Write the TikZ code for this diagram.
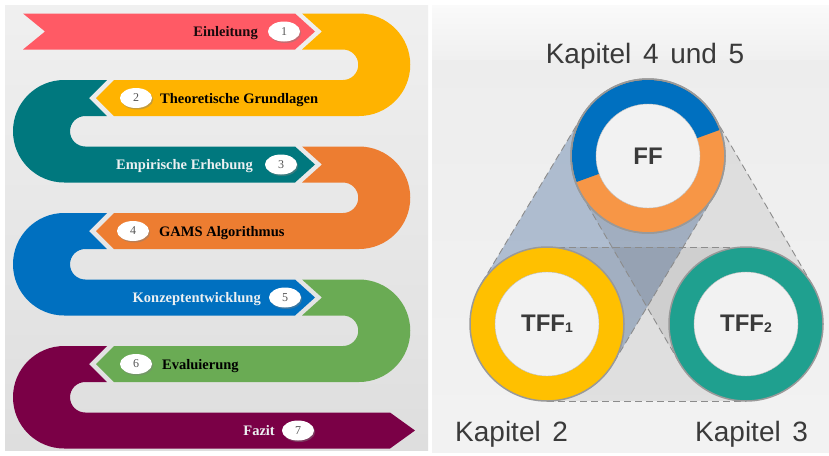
\documentclass[tikz,border=0pt]{standalone}
\usepackage{fontspec}
\setmainfont{Liberation Serif}
\setsansfont{Liberation Sans}
\newfontfamily\chapfont[WordSpace=1.5]{Liberation Sans}
\usetikzlibrary{shapes.geometric,shadows,calc}

\definecolor{bandred}{HTML}{FF5A65}
\definecolor{bandyellow}{HTML}{FFB300}
\definecolor{bandteal}{HTML}{00787E}
\definecolor{bandorange}{HTML}{ED7D31}
\definecolor{bandblue}{HTML}{0070C0}
\definecolor{bandgreen}{HTML}{6AAB54}
\definecolor{bandpurple}{HTML}{7A0046}
\definecolor{ringblue}{HTML}{0070C0}
\definecolor{ringorange}{HTML}{F79646}
\definecolor{ringyellow}{HTML}{FFC000}
\definecolor{ringteal}{HTML}{1FA08F}
\definecolor{beltblue}{HTML}{6080AA}
\definecolor{labelgray}{HTML}{3A3A3A}
\definecolor{numgray}{HTML}{555555}
\definecolor{darktext}{HTML}{1A0A0C}
\definecolor{lighttext}{HTML}{ECF0F2}

\begin{document}
\begin{tikzpicture}[x=1pt, y=-1pt,
    steptext/.style={font=\bfseries\fontsize{14.5}{16}\selectfont, inner sep=0pt},
    numoval/.style={ellipse, fill=white, minimum width=32pt, minimum height=20pt, inner sep=0pt,
        font=\fontsize{12}{12}\selectfont, text=numgray,
        drop shadow={shadow xshift=1.2pt, shadow yshift=-1.5pt, opacity=0.45}},
    ring/.style={circle, minimum size=154pt, inner sep=0pt, draw=black!40, line width=1.5pt},
    hole/.style={circle, minimum size=104pt, inner sep=0pt, fill=black!5, draw=black!25,
        font=\sffamily\bfseries\fontsize{24}{24}\selectfont, text=labelgray},
    chapter/.style={font=\chapfont\fontsize{28}{28}\selectfont, text=labelgray, inner sep=0pt},
    beltline/.style={draw=black!45, line width=0.9pt, dash pattern=on 7pt off 4pt}]

    % Hintergrund
    \fill[white] (0,0) rectangle (829,455);
    \useasboundingbox (0,0) rectangle (829,455);
    \shade[top color=black!6, bottom color=black!13] (5,5) rectangle (428,450);
    \shade[top color=black!2, bottom color=black!6] (432,5) rectangle (829,60);
    \shade[top color=black!7, bottom color=black!5] (432,60) rectangle (829,452);

    % Schlangenband links
    \fill[bandred] (23,13.5) -- (295,13.5) -- (315,31.5) -- (295,49.5) -- (23,49.5) -- (45,31.5) -- cycle;
    \fill[bandyellow] (302,13.5) -- (359,13.5) arc(270:450:51.25) -- (114,116) -- (96,98) -- (114,80)
        -- (343,80) arc(90:-90:15.25) -- (302,49.5) -- (322,31.5) -- cycle;
    \fill[bandteal] (107,80) -- (64.25,80) arc(270:90:51.25) -- (295,182.5) -- (315,164.5) -- (295,146.5)
        -- (85.25,146.5) arc(90:270:15.25) -- (107,116) -- (89,98) -- cycle;
    \fill[bandorange] (302,146.5) -- (359,146.5) arc(270:450:51.25) -- (114,249) -- (96,231) -- (114,213)
        -- (343,213) arc(90:-90:15.25) -- (302,182.5) -- (322,164.5) -- cycle;
    \fill[bandblue] (107,213) -- (64.25,213) arc(270:90:51.25) -- (295,315.5) -- (315,297.5) -- (295,279.5)
        -- (85.25,279.5) arc(90:270:15.25) -- (107,249) -- (89,231) -- cycle;
    \fill[bandgreen] (302,279.5) -- (359,279.5) arc(270:450:51.25) -- (114,382) -- (96,364) -- (114,346)
        -- (343,346) arc(90:-90:15.25) -- (302,315.5) -- (322,297.5) -- cycle;
    \fill[bandpurple] (107,346) -- (64.25,346) arc(270:90:51.25) -- (390,448.5) -- (415,430.5) -- (390,412.5)
        -- (85.25,412.5) arc(90:270:15.25) -- (107,382) -- (89,364) -- cycle;

    % Beschriftung der Schritte
    \node[steptext, text=darktext, anchor=base east] (einl) at (258,36.5) {Einleitung};
    \node[numoval] (n1) at (284,31.5) {1};
    \node[numoval] (n2) at (136,98) {2};
    \node[steptext, text=black, anchor=base west] (theo) at (160,103) {Theoretische Grundlagen};
    \node[steptext, text=lighttext, anchor=base east] (empi) at (253,169.5) {Empirische Erhebung};
    \node[numoval] (n3) at (281,164.5) {3};
    \node[numoval] (n4) at (133,231) {4};
    \node[steptext, text=black, anchor=base west] (gams) at (159,236) {GAMS Algorithmus};
    \node[steptext, text=lighttext, anchor=base east] (konz) at (261,302.5) {Konzeptentwicklung};
    \node[numoval] (n5) at (285,297.5) {5};
    \node[numoval] (n6) at (136,364) {6};
    \node[steptext, text=black, anchor=base west] (eval) at (162,369) {Evaluierung};
    \node[steptext, text=lighttext, anchor=base east] (fazit) at (275,435.5) {Fazit};
    \node[numoval] (n7) at (298,430.5) {7};

    % Mittelpunkte der Kreise
    \coordinate (cff) at (648,156);
    \coordinate (ctffa) at (547,324);
    \coordinate (ctffb) at (746,324);

    % Verbindungsbänder
    \fill[beltblue, fill opacity=0.45] ($(cff)!77pt!90:(ctffa)$) -- ($(ctffa)!77pt!-90:(cff)$)
        -- ($(ctffa)!77pt!90:(cff)$) -- ($(cff)!77pt!-90:(ctffa)$) -- cycle;
    \fill[black, fill opacity=0.07] ($(cff)!77pt!90:(ctffb)$) -- ($(ctffb)!77pt!-90:(cff)$)
        -- ($(ctffb)!77pt!90:(cff)$) -- ($(cff)!77pt!-90:(ctffb)$) -- cycle;
    \fill[black, fill opacity=0.07] ($(ctffa)!77pt!90:(ctffb)$) -- ($(ctffb)!77pt!-90:(ctffa)$)
        -- ($(ctffb)!77pt!90:(ctffa)$) -- ($(ctffa)!77pt!-90:(ctffb)$) -- cycle;
    \draw[beltline] ($(cff)!77pt!90:(ctffa)$) -- ($(ctffa)!77pt!-90:(cff)$);
    \draw[beltline] ($(cff)!77pt!-90:(ctffa)$) -- ($(ctffa)!77pt!90:(cff)$);
    \draw[beltline] ($(cff)!77pt!90:(ctffb)$) -- ($(ctffb)!77pt!-90:(cff)$);
    \draw[beltline] ($(cff)!77pt!-90:(ctffb)$) -- ($(ctffb)!77pt!90:(cff)$);
    \draw[beltline] ($(ctffa)!77pt!90:(ctffb)$) -- ($(ctffb)!77pt!-90:(ctffa)$);
    \draw[beltline] ($(ctffa)!77pt!-90:(ctffb)$) -- ($(ctffb)!77pt!90:(ctffa)$);

    % Kreise
    \node[ring, fill=ringyellow] (tff1) at (ctffa) {};
    \node[hole] (tff1in) at (ctffa) {TFF\raisebox{-1pt}{\fontsize{14}{14}\selectfont 1}};
    \node[ring, fill=ringteal] (tff2) at (ctffb) {};
    \node[hole] (tff2in) at (ctffb) {TFF\raisebox{-1pt}{\fontsize{14}{14}\selectfont 2}};
    \node[ring, fill=ringorange] (ff) at (cff) {};
    \fill[ringblue] (cff) ++(-20:76) arc(-20:-200:76) -- cycle;
    \draw[black!40, line width=1.5pt] (cff) circle[radius=77];
    \node[hole] (ffin) at (cff) {FF};

    % Kapitel
    \node[chapter, anchor=base] (k45) at (645,63) {Kapitel 4 und 5};
    \node[chapter, anchor=base west] (k2) at (455,441) {Kapitel 2};
    \node[chapter, anchor=base west] (k3) at (695,441) {Kapitel 3};
\end{tikzpicture}
\end{document}
